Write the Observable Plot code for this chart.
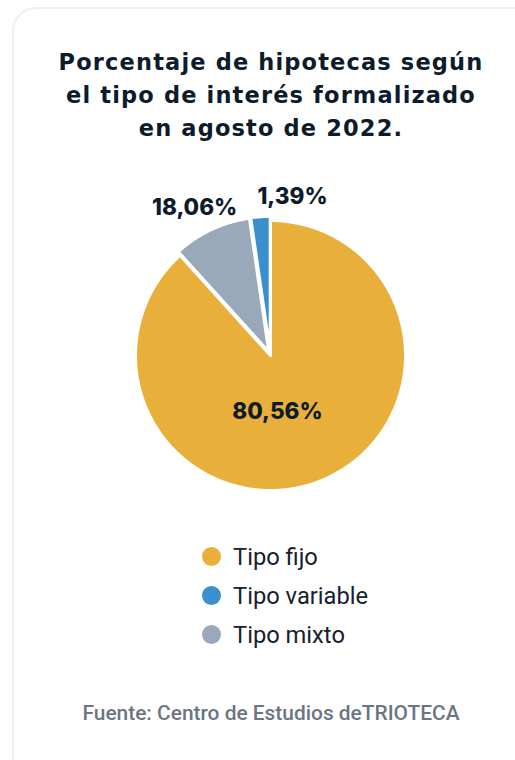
<!DOCTYPE html>
<html>
<head>
<meta charset="utf-8">
<script src="https://cdn.jsdelivr.net/npm/d3@7"></script>
<script src="https://cdn.jsdelivr.net/npm/@observablehq/plot@0.6"></script>
<style>
  html, body { margin: 0; padding: 0; background: #fff; width: 515px; height: 760px; overflow: hidden; }
  .card { position: absolute; left: 12px; top: 7px; width: 560px; height: 820px; border: 2px solid #efefef; border-radius: 24px; box-sizing: border-box; }
  .title { position: absolute; left: 0; top: 46px; width: 542px; text-align: center; font-family: "DejaVu Sans", sans-serif; font-weight: 700; font-size: 22.5px; line-height: 33px; color: #0d1b2a; letter-spacing: 1.15px; }
  #chart { position: absolute; left: 0; top: 160px; }
  .legend { position: absolute; left: 202px; top: 537px; font-family: Roboto, sans-serif; font-size: 23.7px; color: #18202e; }
  .legend .row { display: flex; align-items: center; height: 39px; }
  .legend .dot { width: 19px; height: 19px; border-radius: 50%; margin-right: 12px; }
  .caption { position: absolute; left: 0; top: 701px; width: 542px; text-align: center; font-family: Roboto, sans-serif; font-weight: 500; font-size: 20.9px; line-height: 24px; color: #6b7583; }
</style>
</head>
<body>
<div class="card"></div>
<div class="title">Porcentaje de hipotecas según<br>el tipo de interés formalizado<br>en agosto de 2022.</div>
<div id="chart"></div>
<div class="legend" id="legend"></div>
<div class="caption">Fuente: Centro de Estudios deTRIOTECA</div>
<script>
// Categories in clockwise drawing order (from 12 o'clock)
const categories = ["Tipo fijo", "Tipo mixto", "Tipo variable"];
// Slice sizes as drawn in the picture (percent of the circle)
const drawnShares = [88.3, 9.4, 2.3];
// Printed labels
const labelTexts = ["80,56%", "18,06%", "1,39%"];
const colors = ["#E8B03B", "#9AA9BA", "#3A8FCE"];
// Legend order
const legendOrder = ["Tipo fijo", "Tipo variable", "Tipo mixto"];

// style / layout (not data)
const explode = {"Tipo fijo": 0, "Tipo mixto": 0.03, "Tipo variable": 0.03};
const labelPlace = {"Tipo fijo": {r: 0.42, dθ: 14}, "Tipo mixto": {r: 1.23, dθ: -2}, "Tipo variable": {r: 1.19, dθ: 12}};

const total = d3.sum(drawnShares);
let acc = 0;
const slices = categories.map((c, i) => {
  const a0 = acc / total * 2 * Math.PI;
  acc += drawnShares[i];
  const a1 = acc / total * 2 * Math.PI;
  return {cat: c, a0, a1, mid: (a0 + a1) / 2, label: labelTexts[i], color: colors[i]};
});

function polygon(s) {
  const off = explode[s.cat];
  const cx = off * Math.sin(s.mid), cy = off * Math.cos(s.mid);
  const pts = [{x: cx, y: cy}];
  const n = Math.max(8, Math.ceil((s.a1 - s.a0) / (Math.PI / 180)));
  for (let k = 0; k <= n; k++) {
    const a = s.a0 + (s.a1 - s.a0) * k / n;
    pts.push({x: cx + Math.sin(a), y: cy + Math.cos(a)});
  }
  pts.push({x: cx, y: cy});
  return pts;
}

const labels = slices.map(s => {
  const p = labelPlace[s.cat];
  const a = s.mid + p.dθ * Math.PI / 180;
  return {x: p.r * Math.sin(a), y: p.r * Math.cos(a), text: s.label};
});

const cy = 195, R = 135, cxp = 270;
const plot = Plot.plot({
  width: 515,
  height: 380,
  margin: 0,
  x: {domain: [-1, 1], range: [cxp - R, cxp + R], axis: null},
  y: {domain: [-1, 1], range: [cy + R, cy - R], axis: null},
  style: {background: "transparent", overflow: "visible"},
  marks: [
    ...slices.map(s => Plot.line(polygon(s), {x: "x", y: "y", fill: s.color, stroke: "white", strokeWidth: 3, strokeLinejoin: "round", curve: "linear"})),
    Plot.text(labels, {x: "x", y: "y", text: "text", fontFamily: "Inter, sans-serif", fontWeight: 800, fontSize: 22.5, fill: "#0d1b2a"})
  ]
});
document.getElementById("chart").appendChild(plot);

const leg = document.getElementById("legend");
legendOrder.forEach(c => {
  const i = categories.indexOf(c);
  const row = document.createElement("div");
  row.className = "row";
  row.innerHTML = `<span class="dot" style="background:${colors[i]}"></span><span>${c}</span>`;
  leg.appendChild(row);
});
</script>
</body>
</html>
